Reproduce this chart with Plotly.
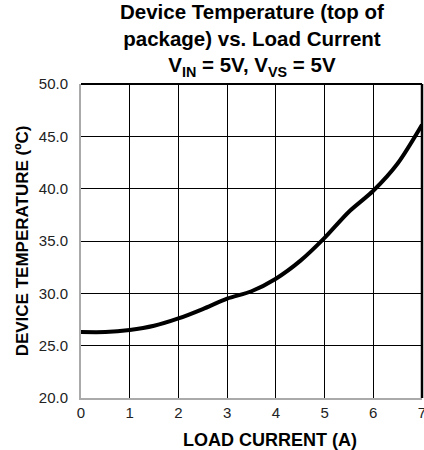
import plotly.graph_objects as go

# Load current (A) and top-of-package temperature (°C)
load_current = [0, 0.5, 1.0, 1.5, 2.0, 2.5, 3.0, 3.5, 4.0, 4.5, 5.0, 5.5, 6.0, 6.5, 7.0]
temperature = [26.3, 26.3, 26.5, 26.9, 27.6, 28.5, 29.5, 30.2, 31.4, 33.1, 35.3, 37.8, 39.8, 42.4, 46.1]

x_ticks = [0, 1, 2, 3, 4, 5, 6, 7]
y_ticks = [20, 25, 30, 35, 40, 45, 50]
y_tick_labels = ["20.0", "25.0", "30.0", "35.0", "40.0", "45.0", "50.0"]

font_family = "Liberation Sans, Arial, sans-serif"

fig = go.Figure()
fig.add_trace(go.Scatter(
    x=load_current, y=temperature, mode="lines",
    line=dict(color="black", width=4, shape="spline", smoothing=0.8),
    hoverinfo="skip", showlegend=False,
))

# Black border on top and right of the plot area
fig.add_shape(type="line", xref="paper", yref="paper", x0=0, x1=1, y0=1, y1=1,
              line=dict(color="black", width=2))
fig.add_shape(type="line", xref="paper", yref="paper", x0=1, x1=1, y0=0, y1=1,
              line=dict(color="black", width=2.5))

# Chart title above the plot area
fig.add_annotation(
    text="<b>Device Temperature (top of<br>package) vs. Load Current<br>"
         "V<sub>IN</sub> = 5V, V<sub>VS</sub> = 5V</b>",
    xref="paper", yref="paper", x=0.5, y=1, xanchor="center", yanchor="bottom",
    yshift=2, showarrow=False, align="center",
    font=dict(size=20.5, color="black", family=font_family),
)

# X axis title
fig.add_annotation(
    text="<b>LOAD CURRENT (A)</b>", xref="paper", yref="paper",
    x=0.555, y=0, xanchor="center", yanchor="top", yshift=-30, showarrow=False,
    font=dict(size=18, color="black", family=font_family),
)

fig.update_layout(
    width=424, height=450,
    margin=dict(l=81, r=2, t=84, b=52, autoexpand=False),
    paper_bgcolor="white", plot_bgcolor="white",
    font=dict(family=font_family, color="#222"),
    xaxis=dict(
        range=[0, 7], tickvals=x_ticks, ticks="", tickfont=dict(size=15, color="#222"),
        ticklabeloverflow="allow", automargin=False,
        showgrid=True, gridcolor="black", gridwidth=1,
        showline=True, linecolor="#aaaaaa", linewidth=2, zeroline=False,
    ),
    yaxis=dict(
        range=[20, 50], tickvals=y_ticks, ticktext=y_tick_labels, ticks="",
        tickfont=dict(size=15, color="#222"), ticklabeloverflow="allow",
        ticklabelstandoff=8, automargin=False,
        showgrid=True, gridcolor="black", gridwidth=1,
        showline=True, linecolor="#aaaaaa", linewidth=2, zeroline=False,
        title=dict(text="<b>DEVICE TEMPERATURE (ºC)</b>", font=dict(size=17, color="black"), standoff=6),
    ),
)

fig.write_html("out.html")
